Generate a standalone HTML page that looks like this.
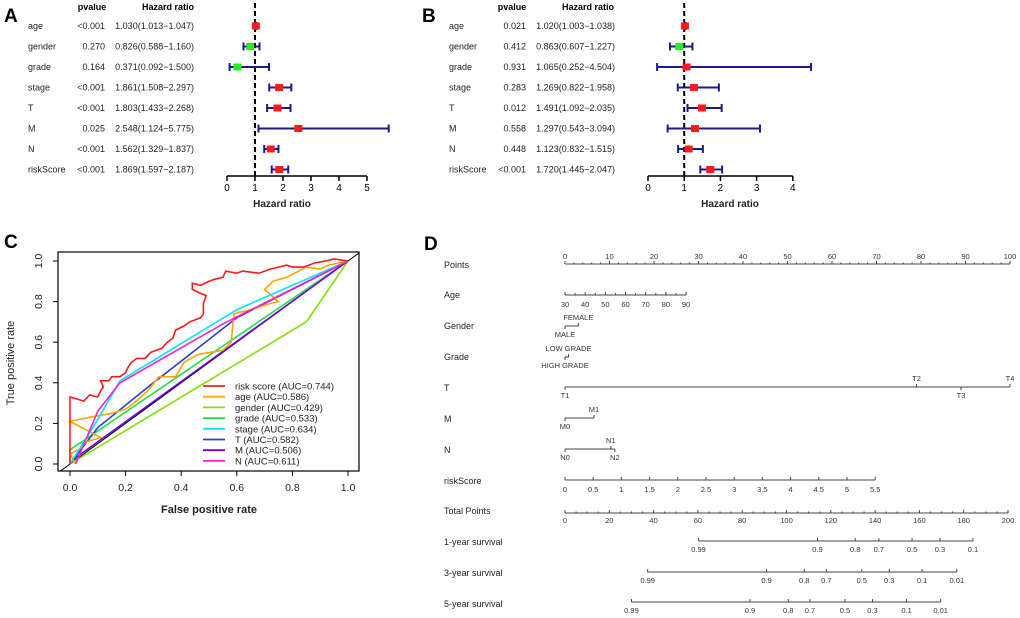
<!DOCTYPE html>
<html><head><meta charset="utf-8">
<style>
html,body{margin:0;padding:0;background:#fff;}
svg{display:block;font-family:"Liberation Sans",Arial,sans-serif;}
</style></head>
<body>
<svg id="fig" width="1020" height="618" viewBox="0 0 1020 618" xmlns="http://www.w3.org/2000/svg">
<text x="4" y="22" font-size="19" font-weight="bold">A</text>
<text x="422" y="22" font-size="19" font-weight="bold">B</text>
<text x="4" y="248" font-size="19" font-weight="bold">C</text>
<text x="424" y="250" font-size="19" font-weight="bold">D</text>
<g id="gA"></g>
<g id="gB"></g>
<g id="gC"></g>
<g id="gD"></g>
</svg>
<script>
// ---------- Forest data ----------
const forestVars = ["age","gender","grade","stage","T","M","N","riskScore"];
const aP = ["<0.001","0.270","0.164","<0.001","<0.001","0.025","<0.001","<0.001"];
const aHR = [1.030,0.826,0.371,1.861,1.803,2.548,1.562,1.869];
const aLo = [1.013,0.588,0.092,1.508,1.433,1.124,1.329,1.597];
const aHi = [1.047,1.160,1.500,2.297,2.268,5.775,1.837,2.187];
const aTicks = [0,1,2,3,4,5];
const bP = ["0.021","0.412","0.931","0.283","0.012","0.558","0.448","<0.001"];
const bHR = [1.020,0.863,1.065,1.269,1.491,1.297,1.123,1.720];
const bLo = [1.003,0.607,0.252,0.822,1.092,0.543,0.832,1.445];
const bHi = [1.038,1.227,4.504,1.958,2.035,3.094,1.515,2.047];
const bTicks = [0,1,2,3,4];

// ---------- ROC data ----------
const rocNames = ["risk score","age","gender","grade","stage","T","M","N"];
const rocAUC = ["0.744","0.586","0.429","0.533","0.634","0.582","0.506","0.611"];
const rocColors = ["#ff1a1a","#ffa500","#80e000","#22dd44","#00e5ff","#1e40e0","#7000e0","#ff22cc"];
const rocRiskFpr = [0,0,0.05,0.07,0.1,0.11,0.12,0.11,0.14,0.15,0.18,0.2,0.21,0.22,0.24,0.27,0.29,0.33,0.35,0.37,0.38,0.41,0.43,0.47,0.48,0.48,0.49,0.47,0.44,0.44,0.47,0.5,0.52,0.55,0.56,0.6,0.62,0.68,0.72,0.75,0.78,0.8,0.84,0.88,0.92,0.95,1];
const rocRiskTpr = [0,0.33,0.31,0.34,0.33,0.36,0.38,0.41,0.41,0.43,0.43,0.45,0.48,0.5,0.52,0.52,0.55,0.57,0.6,0.62,0.66,0.68,0.7,0.72,0.74,0.79,0.83,0.84,0.86,0.89,0.88,0.9,0.91,0.92,0.95,0.94,0.95,0.94,0.96,0.97,0.98,0.97,0.97,0.99,1.0,1.01,1];
const rocAgeFpr = [0.02,0,0.03,0.06,0.11,0,0.07,0.15,0.2,0.23,0.28,0.32,0.38,0.41,0.46,0.55,0.58,0.59,0.65,0.72,0.75,0.7,0.73,0.78,0.85,0.9,0.93,1];
const rocAgeTpr = [0,0.05,0.07,0.11,0.13,0.21,0.23,0.25,0.27,0.3,0.36,0.43,0.43,0.5,0.54,0.56,0.6,0.74,0.76,0.79,0.8,0.86,0.9,0.92,0.97,0.96,0.98,1];
const rocGenderFpr = [0,0.85,1];
const rocGenderTpr = [0,0.7,1];
const rocGradeFpr = [0,0,1];
const rocGradeTpr = [0,0.07,1];
const rocStageFpr = [0,0.06,0.1,0.18,0.6,1];
const rocStageTpr = [0,0.13,0.22,0.41,0.76,1];
const rocTFpr = [0,0.1,0.3,0.6,1];
const rocTTpr = [0,0.18,0.4,0.72,1];
const rocMFpr = [0,0.02,1];
const rocMTpr = [0,0.03,1];
const rocNFpr = [0.02,0.06,0.1,0.18,0.55,1];
const rocNTpr = [0,0.13,0.26,0.4,0.69,1];
const rocTicks = [0,0.2,0.4,0.6,0.8,1.0];

// ---------- Nomogram data ----------
const nomoRows = ["Points","Age","Gender","Grade","T","M","N","riskScore","Total Points","1-year survival","3-year survival","5-year survival"];
const pointsTicks = [0,10,20,30,40,50,60,70,80,90,100];
const ageLabels = [30,40,50,60,70,80,90];
const agePointsMax = 27.2;
const genderLabels = ["MALE","FEMALE"]; const genderPts = [0,3];
const gradeLabels = ["HIGH GRADE","LOW GRADE"]; const gradePts = [0,0.8];
const tLabels = ["T1","T2","T3","T4"]; const tPts = [0,79,89,100];
const mLabels = ["M0","M1"]; const mPts = [0,6.5];
const nLabels = ["N0","N1","N2"]; const nPts = [0,10.3,11.2];
const riskLabels = ["0","0.5","1","1.5","2","2.5","3","3.5","4","4.5","5","5.5"];
const riskMaxPts = 69.7;
const totalTicks = [0,20,40,60,80,100,120,140,160,180,200];
const s1Labels = ["0.99","0.9","0.8","0.7","0.5","0.3","0.1"];
const s1Tot = [60.3,114,131,141.7,156.7,169.3,184.2];
const s3Labels = ["0.99","0.9","0.8","0.7","0.5","0.3","0.1","0.01"];
const s3Tot = [37.3,91,108,118,134,146.4,161.2,176.9];
const s5Labels = ["0.99","0.9","0.8","0.7","0.5","0.3","0.1","0.01"];
const s5Tot = [30,83.5,100.8,110.6,126.4,138.8,154.2,169.6];

const NS="http://www.w3.org/2000/svg";
function mk(parent,tag,attrs,txt){const e=document.createElementNS(NS,tag);for(const k in attrs)e.setAttribute(k,attrs[k]);if(txt!==undefined)e.textContent=txt;parent.appendChild(e);return e;}

// ---------- Forest ----------
function forest(g,cfg,P,HR,LO,HI,ticks){
  const rowY=i=>26+i*20.5;
  const xs=v=>cfg.x0+(v-ticks[0])*cfg.k;
  let t=mk(g,'text',{x:cfg.pc,y:10,'font-size':9,'font-weight':'bold','text-anchor':'middle'},'pvalue');
  
  
  t=mk(g,'text',{x:cfg.hc,y:10,'font-size':9,'font-weight':'bold','text-anchor':'middle'},'Hazard ratio');
  
  
  const top=3, bottom=176;
  let d=mk(g,'line',{x1:xs(1),x2:xs(1),y1:top,y2:bottom,stroke:'#000','stroke-width':2,'stroke-dasharray':'5,3'});
  
  
  forestVars.forEach((v,i)=>{
    const y=rowY(i);
    let a=mk(g,'text',{x:cfg.nx,y:y+3,'font-size':9,fill:'#222'},v);
    
    
    a=mk(g,'text',{x:cfg.pr,y:y+3,'font-size':9,'text-anchor':'end',fill:'#222'},P[i]);
    
    
    a=mk(g,'text',{x:cfg.hr,y:y+3,'font-size':9,'text-anchor':'end',fill:'#222'},HR[i].toFixed(3)+'('+LO[i].toFixed(3)+'\u2212'+HI[i].toFixed(3)+')');
    
    
    const w=mk(g,'path',{d:`M${xs(LO[i])},${y}H${xs(HI[i])}M${xs(LO[i])},${y-4}V${y+4}M${xs(HI[i])},${y-4}V${y+4}`,stroke:'#1a1a8c','stroke-width':2,fill:'none'});
    
    
    const sq=mk(g,'rect',{x:xs(HR[i])-4,y:y-3.5,width:8,height:7,fill:HR[i]<1?'#22ee22':'#ff1a1a'});
    
    
  });
  const ax=mk(g,'line',{x1:xs(ticks[0]),x2:xs(ticks[ticks.length-1]),y1:bottom,y2:bottom,stroke:'#000','stroke-width':1.5});
  
  
  ticks.forEach(tv=>{
    const tk=mk(g,'line',{x1:xs(tv),x2:xs(tv),y1:bottom,y2:bottom+5,stroke:'#000','stroke-width':1.5});
    
    
    const tl=mk(g,'text',{x:xs(tv),y:bottom+15,'font-size':10,'text-anchor':'middle'},String(tv));
    
    
  });
  const tt=mk(g,'text',{x:cfg.tc,y:207,'font-size':10,'font-weight':'bold','text-anchor':'middle',fill:'#222'},'Hazard ratio');
  
  
}
forest(document.getElementById('gA'),{x0:227,k:28,nx:28,pr:105,hr:194,pc:92,hc:168,tc:282},aP,aHR,aLo,aHi,aTicks);
forest(document.getElementById('gB'),{x0:648,k:36.2,nx:449,pr:526,hr:615,pc:512,hc:588,tc:730},bP,bHR,bLo,bHi,bTicks);

// ---------- ROC ----------
(function(){
  const g=document.getElementById('gC');
  const L=58,T=252,R=359,B=471;
  const xs=v=>70+v*278, ys=v=>464-v*203;
  const clip=mk(g,'clipPath',{id:'rocclip'});mk(clip,'rect',{x:L,y:T,width:R-L,height:B-T});
  const diag=mk(g,'line',{x1:xs(-0.05),y1:ys(-0.05),x2:xs(1.05),y2:ys(1.05),stroke:'#000','stroke-width':1,'clip-path':'url(#rocclip)'});
  
  
  const series=[[rocRiskFpr,rocRiskTpr],[rocAgeFpr,rocAgeTpr],[rocGenderFpr,rocGenderTpr],[rocGradeFpr,rocGradeTpr],[rocStageFpr,rocStageTpr],[rocTFpr,rocTTpr],[rocMFpr,rocMTpr],[rocNFpr,rocNTpr]];
  const order=[2,3,6,5,1,4,7,0];
  order.forEach(i=>{
    const [fx,ty]=series[i];
    const pts=fx.map((f,j)=>xs(f).toFixed(1)+','+ys(ty[j]).toFixed(1)).join(' ');
    const pl=mk(g,'polyline',{points:pts,fill:'none',stroke:rocColors[i],'stroke-width':1.6,'clip-path':'url(#rocclip)'});
    
    
  });
  const box=mk(g,'rect',{x:L,y:T,width:R-L,height:B-T,fill:'none',stroke:'#000','stroke-width':1.2});
  
  
  rocTicks.forEach(v=>{
    let a=mk(g,'line',{x1:xs(v),x2:xs(v),y1:B,y2:B+5,stroke:'#000'});
    
    
    a=mk(g,'text',{x:xs(v),y:491,'font-size':10.5,'text-anchor':'middle',fill:'#222'},v.toFixed(1));
    
    
    a=mk(g,'line',{x1:L,x2:L-5,y1:ys(v),y2:ys(v),stroke:'#000'});
    
    
    a=mk(g,'text',{x:0,y:0,'font-size':10.5,'text-anchor':'middle',fill:'#222',transform:`translate(42,${ys(v)}) rotate(-90)`},v.toFixed(1));
    
    
  });
  let a=mk(g,'text',{x:209,y:513,'font-size':11,'font-weight':'bold','text-anchor':'middle',fill:'#222'},'False positive rate');
  
  
  a=mk(g,'text',{x:0,y:0,'font-size':11,'text-anchor':'middle',fill:'#222',transform:'translate(14,363) rotate(-90)'},'True positive rate');
  
  
  rocNames.forEach((n,i)=>{
    const y=386+i*10.7;
    const lg=mk(g,'g',{});
    
    
    mk(lg,'line',{x1:203,x2:225,y1:y,y2:y,stroke:rocColors[i],'stroke-width':1.8});
    mk(lg,'text',{x:235,y:y+3.5,'font-size':9.5,fill:'#222'},n+' (AUC='+rocAUC[i]+')');
  });
})();

// ---------- Nomogram ----------
(function(){
  const g=document.getElementById('gD');
  const px=p=>565+p*4.45;         // points
  const tx=t=>565+t*2.215;        // total points
  const fs=7.5;
  const rowLabelY=[268,298,329,360,391,422,453,484,514,545,576,607];
  nomoRows.forEach((n,i)=>{
    const t=mk(g,'text',{x:444,y:rowLabelY[i],'font-size':9,fill:'#222'},n);
    
    
  });
  function line(x1,x2,y,name){const l=mk(g,'line',{x1:x1,x2:x2,y1:y,y2:y,stroke:'#444','stroke-width':1});
    
    }
  function tick(x,y,dir,len){const l=mk(g,'line',{x1:x,x2:x,y1:y,y2:y+dir*(len||3),stroke:'#444','stroke-width':1});
    
    }
  function lab(x,y,s){const t=mk(g,'text',{x:x,y:y,'font-size':fs,'text-anchor':'middle',fill:'#333'},s);
    
    }
  // Points
  line(px(0),px(100),264,'points-axis');
  for(let p=0;p<=100;p+=2) tick(px(p),264,-1,p%10===0?3:1.5);
  pointsTicks.forEach(p=>lab(px(p),259,String(p)));
  // Age
  line(px(0),px(agePointsMax),295,'age-axis');
  for(let a=30;a<=90;a+=5) tick(px((a-30)/60*agePointsMax),295,-1,a%10===0?3:2);
  ageLabels.forEach(a=>lab(px((a-30)/60*agePointsMax),307,String(a)));
  // categorical
  function cat(labels,pts,y,name){
    line(px(pts[0]),px(pts[pts.length-1]),y,name);
    labels.forEach((s,i)=>{const up=i%2===1; tick(px(pts[i]),y,up?-1:1,3); lab(px(pts[i]),up?y-6:y+11,s);});
  }
  cat(genderLabels,genderPts,326,'gender-axis');
  cat(gradeLabels,gradePts,357,'grade-axis');
  cat(tLabels,tPts,387,'t-axis');
  cat(mLabels,mPts,418,'m-axis');
  cat(nLabels,nPts,449,'n-axis');
  // riskScore
  line(px(0),px(riskMaxPts),480,'riskscore-axis');
  riskLabels.forEach((s,i)=>{const x=px(i/11*riskMaxPts);tick(x,480,-1,3);lab(x,492,s);});
  // Total points
  line(tx(0),tx(200),513,'total-points-axis');
  for(let p=0;p<=200;p+=5) tick(tx(p),513,-1,p%20===0?3:1.5);
  totalTicks.forEach(p=>lab(tx(p),523,String(p)));
  // survival
  function surv(labels,tot,y,name){
    line(tx(tot[0]),tx(tot[tot.length-1]),y,name);
    labels.forEach((s,i)=>{tick(tx(tot[i]),y,-1,3);lab(tx(tot[i]),y+11,s);});
  }
  surv(s1Labels,s1Tot,541,'one-year-survival-axis');
  surv(s3Labels,s3Tot,572,'three-year-survival-axis');
  surv(s5Labels,s5Tot,602,'five-year-survival-axis');
})();
</script>
</body></html>
